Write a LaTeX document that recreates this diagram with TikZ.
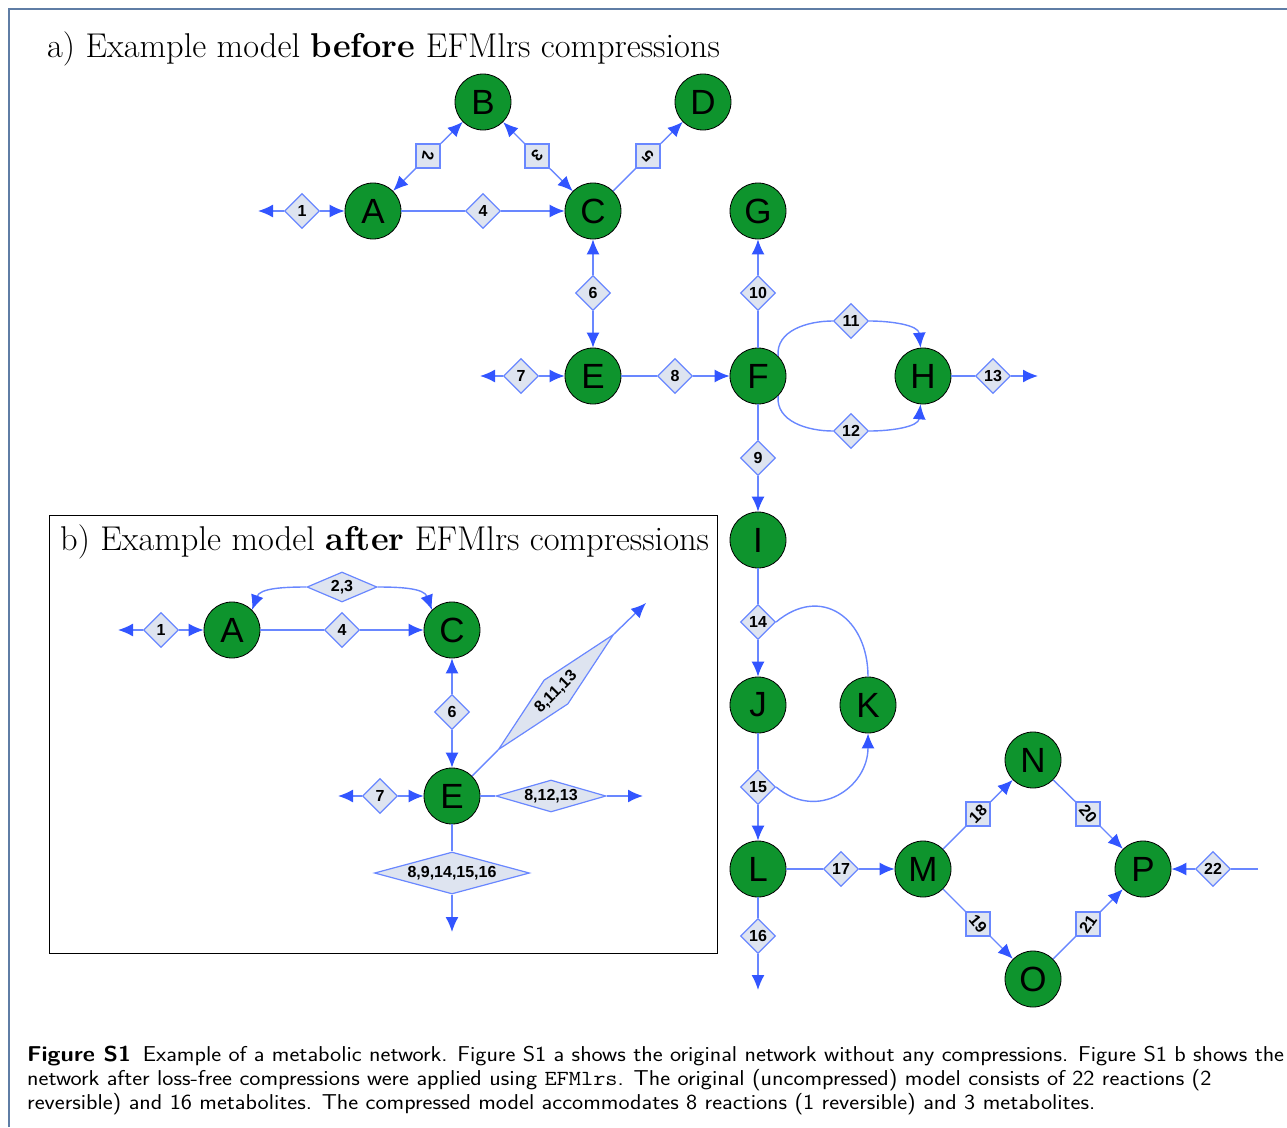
\documentclass[tikz,border=0pt]{standalone}
\usepackage{fontspec}
\usepackage{graphicx}
\usetikzlibrary{shapes.geometric,arrows.meta}
\newfontfamily\netfont{Liberation Sans}
\definecolor{metgreen}{RGB}{14,148,45}
\definecolor{rxnfill}{RGB}{222,228,240}
\definecolor{rxnline}{RGB}{105,135,255}
\definecolor{fluxline}{RGB}{105,135,255}
\definecolor{tipblue}{RGB}{50,85,255}
\definecolor{framecol}{RGB}{95,125,165}
\begin{document}
\begin{tikzpicture}[
    x=1pt,y=1pt,
    >={Latex[length=15pt,width=13pt,color=tipblue]},
    met/.style={circle,draw=black,line width=0.8pt,fill=metgreen,minimum size=56pt,inner sep=0pt,
        font=\netfont\fontsize{35}{35}\selectfont},
    rxn/.style={diamond,draw=rxnline,fill=rxnfill,line width=1.2pt,minimum width=35pt,minimum height=35pt,
        inner sep=0pt,font=\netfont\bfseries\fontsize{16}{16}\selectfont},
    rxnbox/.style={rectangle,draw=rxnline,fill=rxnfill,line width=1.2pt,minimum size=24pt,inner sep=0pt,
        font=\netfont\bfseries\fontsize{16}{16}\selectfont},
    flux/.style={draw=fluxline,line width=1.4pt},
    title/.style={anchor=base west,inner sep=0pt,font=\fontsize{34.4}{40}\selectfont}
]
\useasboundingbox (0,0) rectangle (1287,-1127);
\draw[framecol,line width=1.5pt] (9,-1127) -- (9,-9) -- (1287,-9);

% a) before compression
\node[title] (titlea) at (47,-57) {a) Example model \textbf{before} EFMlrs compressions};

% Metabolites
\node[met] (A) at (373,-211) {A};
\node[met] (B) at (483,-102) {B};
\node[met] (C) at (593,-211) {C};
\node[met] (D) at (703,-102) {D};
\node[met] (E) at (593,-376) {E};
\node[met] (F) at (758,-376) {F};
\node[met] (G) at (758,-211) {G};
\node[met] (H) at (923,-376) {H};
\node[met] (I) at (758,-540) {I};
\node[met] (J) at (758,-705) {J};
\node[met] (K) at (868,-705) {K};
\node[met] (L) at (758,-869) {L};
\node[met] (M) at (923,-869) {M};
\node[met] (N) at (1033,-760) {N};
\node[met] (O) at (1033,-979) {O};
\node[met] (P) at (1143,-869) {P};

% Reactions
\node[rxn] (r1) at (302,-211) {1};
\node[rxnbox] (r2) at (428,-156) {\rotatebox{-100}{2}};
\node[rxnbox] (r3) at (537,-156) {\rotatebox{-135}{3}};
\node[rxn] (r4) at (483,-211) {4};
\node[rxnbox] (r5) at (648,-156) {\rotatebox{135}{5}};
\node[rxn] (r6) at (593,-293) {6};
\node[rxn] (r7) at (521,-376) {7};
\node[rxn] (r8) at (675,-376) {8};
\node[rxn] (r9) at (758,-458) {9};
\node[rxn] (r10) at (758,-293) {10};
\node[rxn] (r11) at (851,-321) {11};
\node[rxn] (r12) at (851,-431) {12};
\node[rxn] (r13) at (993,-376) {13};
\node[rxn] (r14) at (758,-622) {14};
\node[rxn] (r15) at (758,-787) {15};
\node[rxn] (r16) at (758,-936) {16};
\node[rxn] (r17) at (841,-869) {17};
\node[rxnbox] (r18) at (978,-814) {\rotatebox{45}{18}};
\node[rxnbox] (r19) at (978,-924) {\rotatebox{-50}{19}};
\node[rxnbox] (r20) at (1088,-814) {\rotatebox{-50}{20}};
\node[rxnbox] (r21) at (1088,-924) {\rotatebox{55}{21}};
\node[rxn] (r22) at (1213,-869) {22};

\coordinate (r1end) at (258,-211);
\coordinate (r7end) at (480,-376);
\coordinate (r13end) at (1038,-376);
\coordinate (r16end) at (758,-990);
\coordinate (r22end) at (1258,-869);

% Connections
\draw[flux,->] (r1) -- (r1end);
\draw[flux,->] (r1) -- (A);
\draw[flux,->] (r2) -- (A);
\draw[flux,->] (r2) -- (B);
\draw[flux,->] (r3) -- (B);
\draw[flux,->] (r3) -- (C);
\draw[flux] (A) -- (r4);
\draw[flux,->] (r4) -- (C);
\draw[flux] (C) -- (r5);
\draw[flux,->] (r5) -- (D);
\draw[flux,->] (r6) -- (C);
\draw[flux,->] (r6) -- (E);
\draw[flux,->] (r7) -- (r7end);
\draw[flux,->] (r7) -- (E);
\draw[flux] (E) -- (r8);
\draw[flux,->] (r8) -- (F);
\draw[flux] (F) -- (r10);
\draw[flux,->] (r10) -- (G);
\draw[flux] (F.45) to[out=95,in=180] (r11.west);
\draw[flux,->] (r11.east) to[out=0,in=95] (H.95);
\draw[flux] (F.-45) to[out=-95,in=180] (r12.west);
\draw[flux,->] (r12.east) to[out=0,in=-95] (H.-95);
\draw[flux] (H) -- (r13);
\draw[flux,->] (r13) -- (r13end);
\draw[flux] (F) -- (r9);
\draw[flux,->] (r9) -- (I);
\draw[flux] (I) -- (r14);
\draw[flux,->] (r14) -- (J);
\draw[flux] (K.north) to[out=90,in=40,looseness=1.4] (r14.east);
\draw[flux] (J) -- (r15);
\draw[flux,->] (r15) -- (L);
\draw[flux,->] (r15.east) to[out=-40,in=-90,looseness=1.3] (K.south);
\draw[flux] (L) -- (r16);
\draw[flux,->] (r16) -- (r16end);
\draw[flux] (L) -- (r17);
\draw[flux,->] (r17) -- (M);
\draw[flux] (M) -- (r18);
\draw[flux,->] (r18) -- (N);
\draw[flux] (M) -- (r19);
\draw[flux,->] (r19) -- (O);
\draw[flux] (N) -- (r20);
\draw[flux,->] (r20) -- (P);
\draw[flux] (O) -- (r21);
\draw[flux,->] (r21) -- (P);
\draw[flux] (r22end) -- (r22);
\draw[flux,->] (r22) -- (P);

% b) after compression
\draw[line width=0.8pt] (49,-515) rectangle (717,-953);
\node[title] (titleb) at (60,-550) {b) Example model \textbf{after} EFMlrs compressions};

\node[met] (Ab) at (232,-630) {A};
\node[met] (Cb) at (452,-630) {C};
\node[met] (Eb) at (452,-796) {E};

\node[rxn] (r1b) at (161,-630) {1};
\node[rxn,aspect=2.3,minimum width=70pt,minimum height=30pt] (r23b) at (342,-587) {2,3};
\node[rxn] (r4b) at (342,-630) {4};
\node[rxn] (r6b) at (452,-712) {6};
\node[rxn] (r7b) at (380,-796) {7};
\node[rxn,aspect=3.4,minimum width=110pt,minimum height=32pt] (r81213) at (551,-796) {8,12,13};
\node[rxn,aspect=4.9,minimum width=163pt,minimum height=34pt,rotate=45] (r81113) at (556,-692) {8,11,13};
\node[rxn,aspect=3.7,minimum width=155pt,minimum height=42pt] (r8915) at (452,-873) {8,9,14,15,16};

\coordinate (r1bend) at (118,-630);
\coordinate (r7bend) at (338,-796);
\coordinate (r81213end) at (643,-796);
\coordinate (r81113end) at (646,-603);
\coordinate (r8915end) at (452,-932);

\draw[flux,->] (r1b) -- (r1bend);
\draw[flux,->] (r1b) -- (Ab);
\draw[flux,->] (r23b.west) to[out=180,in=70] (Ab.45);
\draw[flux,->] (r23b.east) to[out=0,in=110] (Cb.135);
\draw[flux] (Ab) -- (r4b);
\draw[flux,->] (r4b) -- (Cb);
\draw[flux,->] (r6b) -- (Cb);
\draw[flux,->] (r6b) -- (Eb);
\draw[flux,->] (r7b) -- (r7bend);
\draw[flux,->] (r7b) -- (Eb);
\draw[flux] (Eb) -- (r81213.west);
\draw[flux,->] (r81213.east) -- (r81213end);
\draw[flux] (Eb) -- (r81113.west);
\draw[flux,->] (r81113.east) -- (r81113end);
\draw[flux] (Eb) -- (r8915.north);
\draw[flux,->] (r8915.south) -- (r8915end);

% Caption
\node[anchor=north west,inner sep=0pt,align=left,xscale=1.1,font=\sffamily\fontsize{21.5}{24}\selectfont] (caption) at (27,-1046)
    {\textbf{Figure S1}\enspace Example of a metabolic network. Figure S1 a shows the original network without any compressions. Figure S1 b shows the\\
    network after loss-free compressions were applied using \texttt{EFMlrs}. The original (uncompressed) model consists of 22 reactions (2\\
    reversible) and 16 metabolites. The compressed model accommodates 8 reactions (1 reversible) and 3 metabolites.};
\end{tikzpicture}
\end{document}
